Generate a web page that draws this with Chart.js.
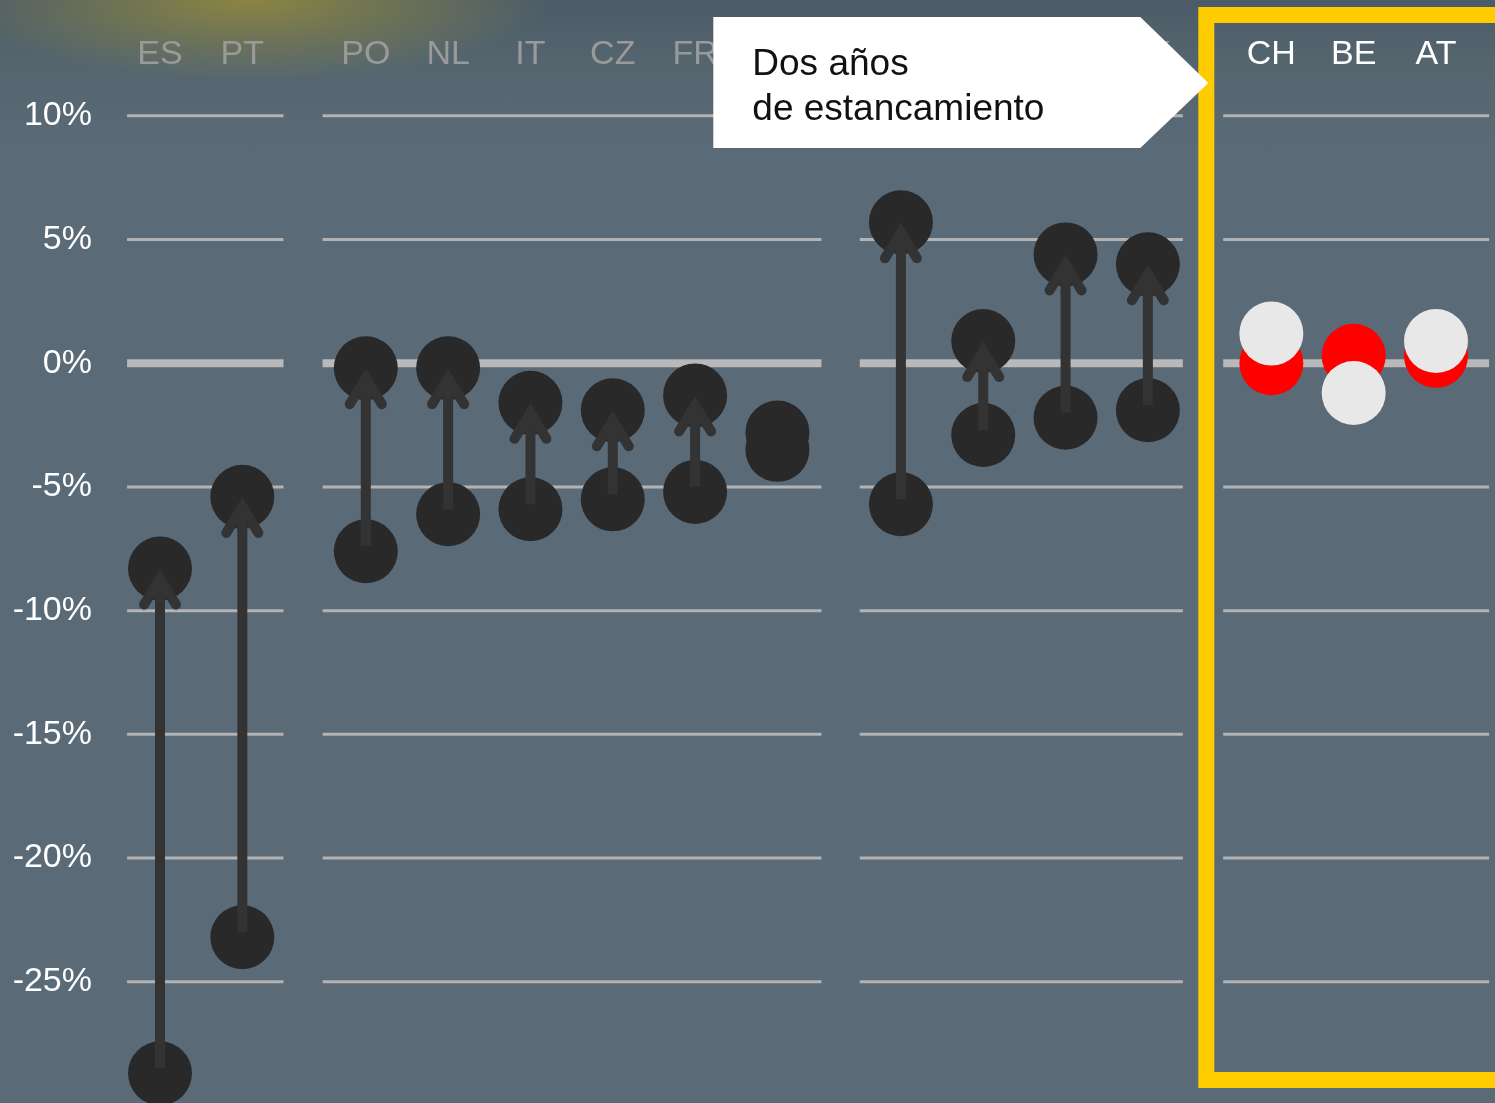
<!DOCTYPE html>
<html>
<head>
<meta charset="utf-8">
<script src="https://cdn.jsdelivr.net/npm/chart.js@4"></script>
<style>
  html, body { margin: 0; padding: 0; overflow: hidden; }
  body {
    width: 1495px; height: 1103px;
    background:
      radial-gradient(ellipse 300px 80px at 250px 0px, rgba(150,140,60,0.85), rgba(150,140,60,0) 100%),
      linear-gradient(to bottom, #4b5c68 0px, #55666f 70px, #5a6a77 150px, #5a6a77 100%);
  }
  canvas { display: block; }
</style>
</head>
<body>
<canvas id="myChart" width="1495" height="1103"></canvas>
<script>
// countries, in drawing order, split into four groups
const countries = ['ES', 'PT', 'PO', 'NL', 'IT', 'CZ', 'FR', 'FI', 'SE', 'DE', 'NO', 'UK', 'CH', 'BE', 'AT'];
const groupSizes = [2, 6, 4, 3];

// growth (%) : where the arrow starts and where it ends
const startValues = [-28.7, -23.2, -7.6, -6.1, -5.9, -5.5, -5.2, -3.5, -5.7, -2.9, -2.2, -1.9, null, null, null];
const endValues   = [-8.3, -5.4, -0.2, -0.2, -1.6, -1.9, -1.3, -2.8, 5.7, 0.9, 4.4, 4.0, null, null, null];

// two years of stagnation (CH, BE, AT)
const redValues   = [null, null, null, null, null, null, null, null, null, null, null, null, 0.0, 0.3, 0.3];
const whiteValues = [null, null, null, null, null, null, null, null, null, null, null, null, 1.2, -1.2, 0.9];

const yTicks = [10, 5, 0, -5, -10, -15, -20, -25];
const calloutLines = ['Dos años', 'de estancamiento'];

// build half-step slots: one empty slot between countries, two between groups
const slotLabels = [];
const slotIndex = [];
let k = 0;
groupSizes.forEach((n, g) => {
  if (g > 0) { slotLabels.push(''); slotLabels.push(''); }
  for (let j = 0; j < n; j++) {
    if (j > 0) slotLabels.push('');
    slotIndex.push(slotLabels.length);
    slotLabels.push(countries[k++]);
  }
});
function toSlots(values) {
  const out = slotLabels.map(() => null);
  values.forEach((v, i) => { out[slotIndex[i]] = v; });
  return out;
}
const whiteLabels = ['CH', 'BE', 'AT'];

// grid segments per group (extension in slots left / right)
const groupExt = [[0.8, 1.0], [1.05, 1.07], [1.0, 0.85], [1.17, 1.29]];

const groupGrid = {
  id: 'groupGrid',
  beforeDatasetsDraw(chart) {
    const { ctx, scales: { x, y } } = chart;
    const step = x.getPixelForValue(1) - x.getPixelForValue(0);
    ctx.save();
    let first = 0;
    groupSizes.forEach((n, g) => {
      const x0 = x.getPixelForValue(slotIndex[first]) - groupExt[g][0] * step;
      const x1 = x.getPixelForValue(slotIndex[first + n - 1]) + groupExt[g][1] * step;
      yTicks.forEach(t => {
        const py = y.getPixelForValue(t);
        ctx.beginPath();
        ctx.strokeStyle = t === 0 ? '#b9b9b9' : '#b3b3b3';
        ctx.lineWidth = t === 0 ? 8 : 3;
        ctx.moveTo(x0, py);
        ctx.lineTo(x1, py);
        ctx.stroke();
      });
      first += n;
    });
    ctx.restore();
  }
};

const arrows = {
  id: 'arrows',
  afterDatasetsDraw(chart) {
    const { ctx, scales: { x, y } } = chart;
    ctx.save();
    ctx.strokeStyle = '#333333';
    ctx.lineWidth = 10;
    ctx.lineJoin = 'miter';
    startValues.forEach((s, i) => {
      const e = endValues[i];
      if (s === null || e === null || Math.abs(e - s) < 1) return;
      const px = x.getPixelForValue(slotIndex[i]);
      const y0 = y.getPixelForValue(s);
      const y1 = y.getPixelForValue(e);
      ctx.lineCap = 'butt';
      ctx.beginPath();
      ctx.moveTo(px, y0 - 5);
      ctx.lineTo(px, y1 + 12);
      ctx.stroke();
      ctx.lineCap = 'round';
      ctx.beginPath();
      ctx.moveTo(px - 16, y1 + 36);
      ctx.lineTo(px, y1 + 10);
      ctx.lineTo(px + 16, y1 + 36);
      ctx.stroke();
    });
    ctx.restore();
  }
};

const annotations = {
  id: 'annotations',
  afterDraw(chart) {
    const { ctx, scales: { x } } = chart;
    const step = x.getPixelForValue(1) - x.getPixelForValue(0);
    const boxLeft = x.getPixelForValue(slotIndex[12]) - 1.58 * step;
    ctx.save();
    // yellow frame
    ctx.strokeStyle = '#ffcc00';
    ctx.lineWidth = 16;
    ctx.strokeRect(boxLeft, 15, 400, 1065);
    // callout
    const tipX = boxLeft + 2;
    ctx.fillStyle = '#ffffff';
    ctx.beginPath();
    ctx.moveTo(tipX - 495, 17);
    ctx.lineTo(tipX - 68, 17);
    ctx.lineTo(tipX, 83);
    ctx.lineTo(tipX - 68, 148);
    ctx.lineTo(tipX - 495, 148);
    ctx.closePath();
    ctx.fill();
    ctx.fillStyle = '#111111';
    ctx.font = '37px "Liberation Sans", Arial, sans-serif';
    ctx.textBaseline = 'alphabetic';
    ctx.textAlign = 'left';
    ctx.fillText(calloutLines[0], tipX - 456, 75);
    ctx.fillText(calloutLines[1], tipX - 456, 120);
    ctx.restore();
  }
};

const ctx = document.getElementById('myChart');
const dot = { type: 'line', showLine: false, pointRadius: 32, pointHoverRadius: 32, pointBorderWidth: 0, clip: false };

new Chart(ctx, {
  type: 'line',
  data: {
    labels: slotLabels,
    datasets: [
      Object.assign({}, dot, { label: 'white', data: toSlots(whiteValues), pointBackgroundColor: '#e8e8e8', order: 0 }),
      Object.assign({}, dot, { label: 'red', data: toSlots(redValues), pointBackgroundColor: '#ff0000', order: 1 }),
      Object.assign({}, dot, { label: 'end', data: toSlots(endValues), pointBackgroundColor: '#292929', order: 2 }),
      Object.assign({}, dot, { label: 'start', data: toSlots(startValues), pointBackgroundColor: '#292929', order: 3 })
    ]
  },
  options: {
    responsive: false,
    animation: false,
    devicePixelRatio: 1,
    layout: { autoPadding: false, padding: { left: 0, right: 59, top: 0, bottom: 0 } },
    plugins: { legend: { display: false }, tooltip: { enabled: false } },
    scales: {
      x: {
        type: 'category',
        position: 'top',
        offset: false,
        grid: { display: false, drawTicks: false },
        border: { display: false },
        ticks: {
          autoSkip: false,
          maxRotation: 0,
          padding: 5,
          font: { family: '"Liberation Sans", Arial, sans-serif', size: 34 },
          color: c => whiteLabels.includes(slotLabels[c.index]) ? '#ffffff' : '#9a9a9a'
        },
        afterFit: s => { s.height = 80; }
      },
      y: {
        min: -29.9,
        max: 11.45,
        grid: { display: false, drawTicks: false },
        border: { display: false },
        ticks: {
          padding: 68,
          color: '#ffffff',
          font: { family: '"Liberation Sans", Arial, sans-serif', size: 34 },
          callback: v => v + '%'
        },
        afterBuildTicks: s => { s.ticks = yTicks.map(v => ({ value: v })); },
        afterFit: s => { s.width = 160; s.paddingTop = 0; s.paddingBottom = 0; }
      }
    }
  },
  plugins: [groupGrid, arrows, annotations]
});
</script>
</body>
</html>
